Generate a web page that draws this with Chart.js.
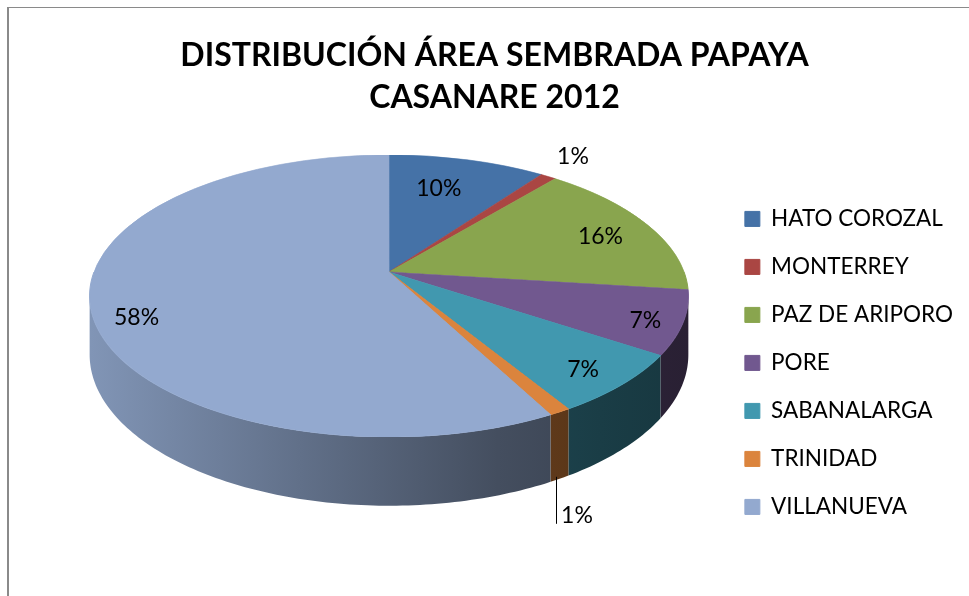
<!DOCTYPE html>
<html>
<head>
<meta charset="utf-8">
<title>Distribución área sembrada papaya</title>
<script src="https://cdn.jsdelivr.net/npm/chart.js@4"></script>
<style>
  html, body { margin: 0; background: #fff; overflow: hidden; }
  #wrap { position: relative; width: 969px; height: 596px; }
  #frame { position: absolute; left: 7px; top: 7px; right: 0; bottom: 0; border-left: 2px solid #8a8a8a; border-top: 1px solid #8a8a8a; pointer-events: none; }
</style>
</head>
<body>
<div id="wrap">
  <canvas id="chart" width="969" height="596"></canvas>
  <div id="frame"></div>
</div>
<script>
const TITLE_LINES = ["DISTRIBUCIÓN ÁREA SEMBRADA PAPAYA", "CASANARE 2012"];
const MUNICIPIOS = ["HATO COROZAL", "MONTERREY", "PAZ DE ARIPORO", "PORE", "SABANALARGA", "TRINIDAD", "VILLANUEVA"];
const AREA_PCT = [10, 1, 16, 7.3, 7, 1, 57.7];
const COLORS = ["#4572a7", "#aa4643", "#89a54e", "#71588f", "#4198af", "#db843d", "#93a9cf"];

// how the flat pie is tilted: apex position, radius, foreshortening, perspective, wall height
const VIEW = { cx: 389, cy: 272, R: 295, s: 137, p: 0.17, depth: 57 };
// label spot along each slice: fraction of radius, angle nudge in degrees
const LABEL_RADIUS = [0.73, 1.25, 0.81, 0.88, 0.855, 1, 0.865];
const LABEL_NUDGE = [-3, -2, 0, 0.4, 0.4, 0, -6.2];
const FONT = "Lato, sans-serif";

function project(angle, r) {
  const u = r * Math.cos(angle);
  const v = r * Math.sin(angle);
  const w = 1 / (1 - VIEW.p * v);
  return { x: VIEW.cx + VIEW.R * u * w, y: VIEW.cy + VIEW.s * v * w, w };
}

function shade(hex, f) {
  const n = parseInt(hex.slice(1), 16);
  const c = [n >> 16, (n >> 8) & 255, n & 255].map((x) => Math.round(x * f));
  return `rgb(${c[0]},${c[1]},${c[2]})`;
}

function drawWalls(ctx, arcs) {
  const a0 = Math.asin(VIEW.p);
  arcs.forEach((arc, i) => {
    const from = Math.max(arc.startAngle, a0);
    const to = Math.min(arc.endAngle, Math.PI - a0);
    if (to <= from) return;
    const steps = Math.ceil((to - from) * 60);
    const top = [];
    for (let k = 0; k <= steps; k++) top.push(project(from + ((to - from) * k) / steps, 1));
    const grad = ctx.createLinearGradient(90, 0, 690, 0);
    [[0, 0.88], [0.35, 0.66], [0.68, 0.46], [0.85, 0.4], [1, 0.36]].forEach(([at, f]) => {
      grad.addColorStop(at, shade(COLORS[i], f));
    });
    ctx.beginPath();
    top.forEach((pt, k) => (k ? ctx.lineTo(pt.x, pt.y) : ctx.moveTo(pt.x, pt.y)));
    top.reverse().forEach((pt) => ctx.lineTo(pt.x, pt.y + VIEW.depth * pt.w));
    ctx.closePath();
    ctx.fillStyle = grad;
    ctx.fill();
  });
}

// the library's arcs are painted row by row, each row with its own scale
function drawTopFace(chart, ctx, arcs) {
  const { cx, cy, R, s, p } = VIEW;
  const ax = arcs[0].x;
  const ay = arcs[0].y;
  for (let y = 150; y < 445; y++) {
    const d = y + 0.5 - cy;
    const v = d / (s + p * d);
    if (Math.abs(v) > 1) continue;
    const w = 1 / (1 - p * v);
    const g = (s / R) * w * w;
    ctx.save();
    ctx.beginPath();
    ctx.rect(0, y, chart.width, 1);
    ctx.clip();
    ctx.transform(w, 0, 0, g, cx - ax * w, y + 0.5 - (ay + R * v) * g);
    arcs.forEach((arc) => arc.draw(ctx));
    ctx.restore();
  }
}

function drawLabels(ctx, arcs) {
  ctx.save();
  ctx.font = `23px ${FONT}`;
  ctx.fillStyle = "#000";
  ctx.textAlign = "center";
  ctx.textBaseline = "middle";
  const total = AREA_PCT.reduce((a, b) => a + b, 0);
  arcs.forEach((arc, i) => {
    const mid = (arc.startAngle + arc.endAngle) / 2 + (LABEL_NUDGE[i] * Math.PI) / 180;
    const pt = project(mid, LABEL_RADIUS[i]);
    const text = `${Math.round((AREA_PCT[i] / total) * 100)}%`;
    if (MUNICIPIOS[i] === "TRINIDAD") {
      // this one sits under the wall, on a leader line
      const lx = Math.round(pt.x) - 4;
      const ly = pt.y + VIEW.depth * pt.w - 2;
      ctx.strokeStyle = "#000";
      ctx.lineWidth = 1;
      ctx.beginPath();
      ctx.moveTo(lx + 0.5, ly);
      ctx.lineTo(lx + 0.5, ly + 47);
      ctx.stroke();
      ctx.fillText(text, lx + 21, ly + 39);
    } else {
      ctx.fillText(text, pt.x, pt.y + 3);
    }
  });
  ctx.restore();
}

const tiltedPie = {
  id: "tiltedPie",
  beforeDatasetsDraw(chart) {
    const ctx = chart.ctx;
    const arcs = chart.getDatasetMeta(0).data;
    drawWalls(ctx, arcs);
    drawTopFace(chart, ctx, arcs);
    drawLabels(ctx, arcs);
    return false;
  },
};

new Chart(document.getElementById("chart"), {
  type: "pie",
  plugins: [tiltedPie],
  data: {
    labels: MUNICIPIOS,
    datasets: [
      {
        data: AREA_PCT,
        backgroundColor: COLORS,
        borderColor: COLORS,
        borderWidth: 1,
        radius: VIEW.R,
      },
    ],
  },
  options: {
    responsive: false,
    animation: false,
    layout: { padding: { left: 26, top: 0, right: 6, bottom: 0 } },
    plugins: {
      title: {
        display: true,
        text: TITLE_LINES,
        color: "#000",
        font: { family: FONT, size: 32, weight: "bold", lineHeight: 1.31 },
        padding: { top: 35, bottom: 11 },
      },
      legend: {
        position: "right",
        fullSize: false,
        labels: {
          color: "#000",
          font: { family: FONT, size: 22.5 },
          boxWidth: 15,
          boxHeight: 15,
          padding: 25.5,
        },
      },
      tooltip: { enabled: false },
    },
  },
});
</script>
</body>
</html>
